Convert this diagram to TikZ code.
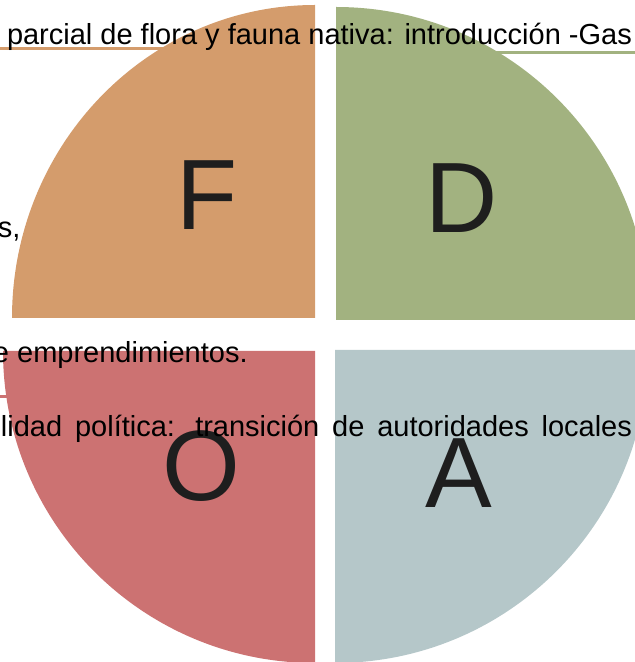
\documentclass[tikz,border=0pt]{standalone}
\usepackage{fontspec}
\setmainfont{Liberation Sans}
\usepackage{xcolor}

\definecolor{colF}{RGB}{212,156,108}
\definecolor{colD}{RGB}{162,178,128}
\definecolor{colO}{RGB}{204,114,114}
\definecolor{colA}{RGB}{181,199,201}
\definecolor{letterc}{RGB}{30,30,30}

\begin{document}
\begin{tikzpicture}[
    x=1pt, y=1pt,
    every node/.style={inner sep=0pt, outer sep=0pt},
    body/.style={anchor=base west, font=\fontsize{29}{35}\selectfont},
    letter/.style={anchor=base, font=\fontsize{100}{120}\selectfont, text=letterc},
    link/.style={line width=3pt}
]
   \useasboundingbox (0,0) rectangle (635,662);

   % corners of the quarters
   \coordinate (cF) at (315,344);
   \coordinate (cD) at (336,342);
   \coordinate (cO) at (315,311);
   \coordinate (cA) at (335,312);

   % free ends of the links
   \coordinate (eF) at (-5,613);
   \coordinate (eD) at (640,609);
   \coordinate (eO) at (-5,265);

   % Links
   \draw[link, colF] (eF) -- (cF |- eF);
   \draw[link, colD] (cD |- eD) -- (eD);
   \draw[link, colO] (eO) -- (cO |- eO);

   % Quarters with colors
   \fill[colF] (cF) -- ++(-303,0) arc[start angle=180, end angle=90, x radius=303, y radius=313] -- cycle;
   \fill[colD] (cD) -- ++(0,313) arc[start angle=90, end angle=0, radius=313] -- cycle;
   \fill[colO] (cO) -- ++(-312,0) arc[start angle=180, end angle=270, radius=312] -- cycle;
   \fill[colA] (cA) -- ++(313,0) arc[start angle=0, end angle=-90, radius=313] -- cycle;

   % Letters
   \node[letter] (lF) at (207,432) {F};
   \node[letter] (lD) at (462,429) {D};
   \node[letter] (lO) at (201,161) {O};
   \node[letter] (lA) at (459,154) {A};

   % Texts
   \node[body] (t1) at (7,617) {parcial de flora y fauna nativa: introducción -Gas};
   \node[body] (t2) at (-2,424) {s,};
   \node[body] (t3) at (-7,299) {e emprendimientos.};
   \node[body] (t4) at (1,225) {\makebox[631pt][s]{lidad política: transición de autoridades locales}};
\end{tikzpicture}
\end{document}
